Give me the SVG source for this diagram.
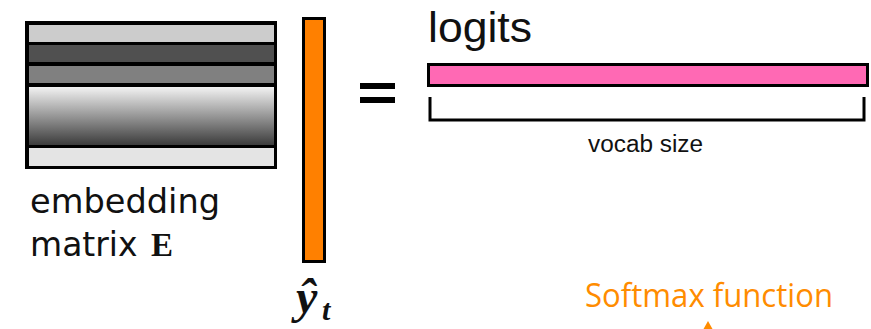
<svg xmlns="http://www.w3.org/2000/svg" width="871" height="329" viewBox="0 0 871 329">
<style>
.box{stroke:#000;stroke-width:3}
.sans{font-family:"Liberation Sans",Arial,sans-serif;fill:#111}
.dv{font-family:"DejaVu Sans",Verdana,sans-serif;fill:#111}
.math{font-family:"Liberation Serif","Times New Roman",serif;font-weight:bold;fill:#111}
</style>
<defs>
<linearGradient id="g" x1="0" y1="0" x2="0" y2="1">
<stop offset="0" stop-color="#f2f2f2"/>
<stop offset="1" stop-color="#3c3c3c"/>
</linearGradient>
</defs>
<rect width="871" height="329" fill="#fff"/>
<g id="embedding-matrix">
<rect x="25" y="21" width="252" height="148" fill="#000"/>
<rect x="29" y="25" width="245" height="17" fill="#cccccc"/>
<rect x="29" y="45" width="245" height="17" fill="#505050"/>
<rect x="29" y="66" width="245" height="17" fill="#808080"/>
<rect x="29" y="87" width="245" height="58" fill="url(#g)"/>
<rect x="29" y="148" width="245" height="18" fill="#e4e4e4"/>
<text class="dv" x="30" y="213" font-size="33" textLength="190" lengthAdjust="spacingAndGlyphs">embedding</text>
<text class="dv" x="30" y="256" font-size="33">matrix</text>
<text class="math" x="151" y="256" font-size="33">E</text>
</g>
<g id="y-hat">
<rect class="box" x="303.5" y="18.5" width="21" height="243" fill="#ff8000"/>
<text class="math" x="296" y="313" font-size="48" font-style="italic">ŷ</text>
<text class="math" x="322" y="320" font-size="30" font-style="italic">t</text>
</g>
<g id="equals">
<rect x="360" y="83" width="35" height="6" fill="#000"/>
<rect x="360" y="97" width="35" height="6" fill="#000"/>
</g>
<g id="logits">
<text class="sans" x="428" y="42" font-size="42" textLength="104" lengthAdjust="spacingAndGlyphs">logits</text>
<rect class="box" x="428.5" y="64.5" width="439" height="21" fill="#ff69b4"/>
</g>
<g id="connectors">
<path d="M430,97 V120 H864 V97" fill="none" stroke="#000" stroke-width="3"/>
<polygon points="708,321 703.5,329 712.5,329" fill="#ff8c00"/>
</g>
<g id="labels">
<text class="sans" x="645.5" y="152" font-size="23" text-anchor="middle" textLength="115" lengthAdjust="spacingAndGlyphs">vocab size</text>
<text x="585" y="307" font-family="'Open Sans','Noto Sans',sans-serif" font-size="32" fill="#ff8c00" textLength="248" lengthAdjust="spacingAndGlyphs">Softmax function</text>
</g>
</svg>
